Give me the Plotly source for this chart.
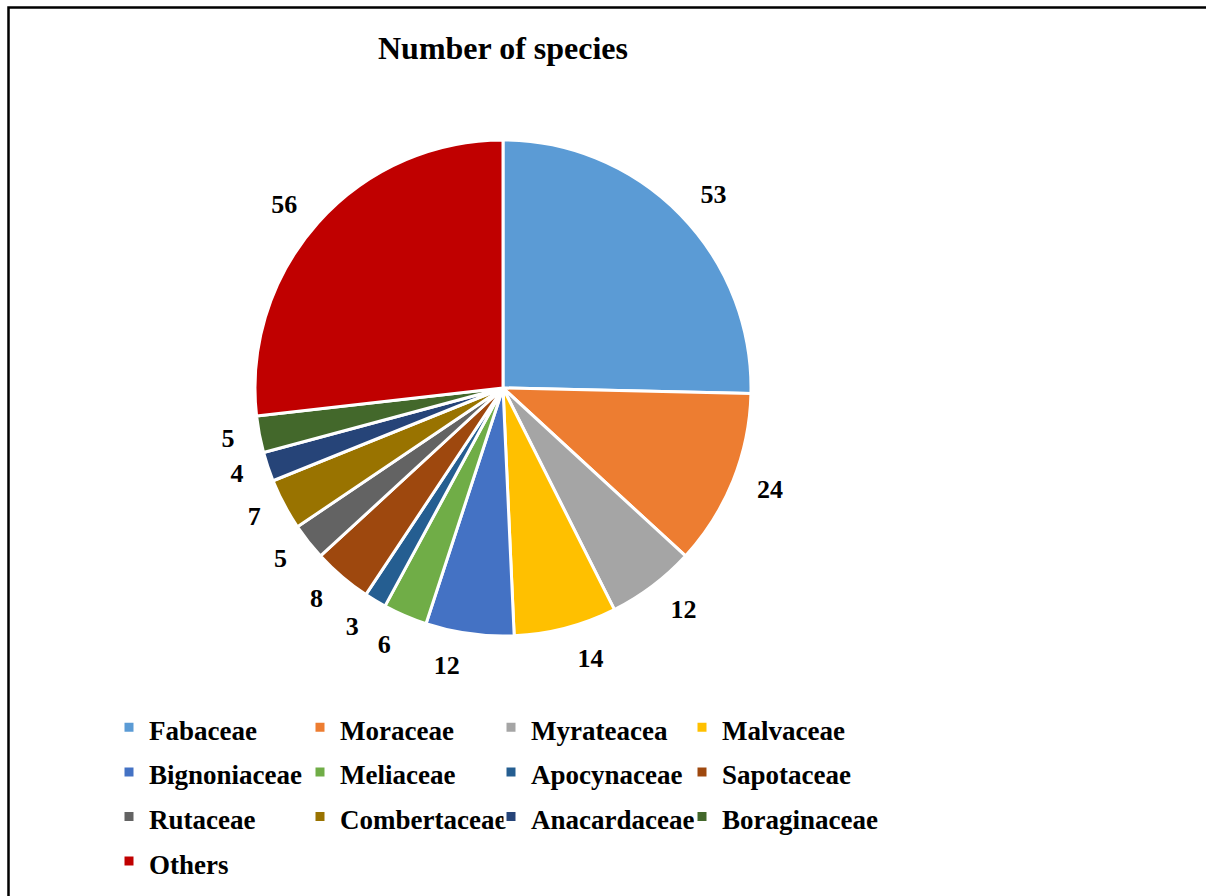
import plotly.graph_objects as go

# Tree families and number of species recorded in each
families = ["Fabaceae", "Moraceae", "Myrateacea", "Malvaceae", "Bignoniaceae",
            "Meliaceae", "Apocynaceae", "Sapotaceae", "Rutaceae", "Combertaceae",
            "Anacardaceae", "Boraginaceae", "Others"]
species_counts = [53, 24, 12, 14, 12, 6, 3, 8, 5, 7, 4, 5, 56]
slice_colors = ["#5B9BD5", "#ED7D31", "#A5A5A5", "#FFC000", "#4472C4", "#70AD47",
                "#255E91", "#9E480E", "#636363", "#997300", "#264478", "#43682B",
                "#C00000"]

W, H = 1206, 896
# the plot area is kept narrower than the page so the legend wraps into 4 columns
PLOT_W = 900
SERIF = "Liberation Serif, Times New Roman, serif"

# legend text is drawn smaller than the legend font so rows get extra spacing
legend_labels = ['<span style="font-size:27px">%s</span>' % f for f in families]

# pie centre / radius in pixels, and radius of the rings carrying the value labels
cx, cy, r = 503, 388, 248
r_lab = 266
N_RINGS = 3  # labels are spread over several rings so neighbours are not shifted


def px_x(x):
    return x / PLOT_W


def px_y(y):
    return 1 - y / H


def domain(radius):
    return dict(x=[px_x(cx - radius), px_x(cx + radius)],
                y=[px_y(cy + radius), px_y(cy - radius)])


fig = go.Figure()

# transparent copies of the pie that only place the value labels outside the slices
for k in range(N_RINGS):
    fig.add_trace(go.Pie(
        labels=legend_labels,
        values=species_counts,
        sort=False,
        direction="clockwise",
        rotation=0,
        marker=dict(colors=["rgba(0,0,0,0)"] * len(families), line=dict(width=0)),
        textinfo="value",
        textposition=["outside" if i % N_RINGS == k else "none"
                      for i in range(len(families))],
        textfont=dict(family=SERIF, size=26, color="black", weight="bold"),
        hoverinfo="skip",
        showlegend=False,
        domain=domain(r_lab),
    ))

# the visible pie
fig.add_trace(go.Pie(
    labels=legend_labels,
    values=species_counts,
    sort=False,
    direction="clockwise",
    rotation=0,
    marker=dict(colors=slice_colors, line=dict(color="white", width=3)),
    textinfo="none",
    hovertemplate="%{customdata}: %{value}<extra></extra>",
    customdata=families,
    domain=domain(r),
))

fig.update_layout(
    width=W, height=H,
    margin=dict(l=0, r=W - PLOT_W, t=0, b=0),
    paper_bgcolor="white",
    plot_bgcolor="white",
    title=dict(text="<b>Number of species</b>", x=px_x(503), y=px_y(48),
               xanchor="center", yanchor="middle", xref="paper", yref="paper",
               font=dict(family=SERIF, size=32, color="black")),
    showlegend=True,
    legend=dict(
        orientation="h",
        x=px_x(121), y=px_y(700), xanchor="left", yanchor="top",
        entrywidth=158,
        indentation=-12,
        font=dict(family=SERIF, size=32, color="black", weight="bold"),
        bgcolor="rgba(0,0,0,0)",
        traceorder="normal",
    ),
    shapes=[dict(type="rect", xref="paper", yref="paper",
                 x0=px_x(8.5), x1=px_x(W + 30), y0=px_y(H + 30), y1=px_y(7.5),
                 line=dict(color="black", width=2.5), layer="above")],
)

fig.write_html("out.html")
